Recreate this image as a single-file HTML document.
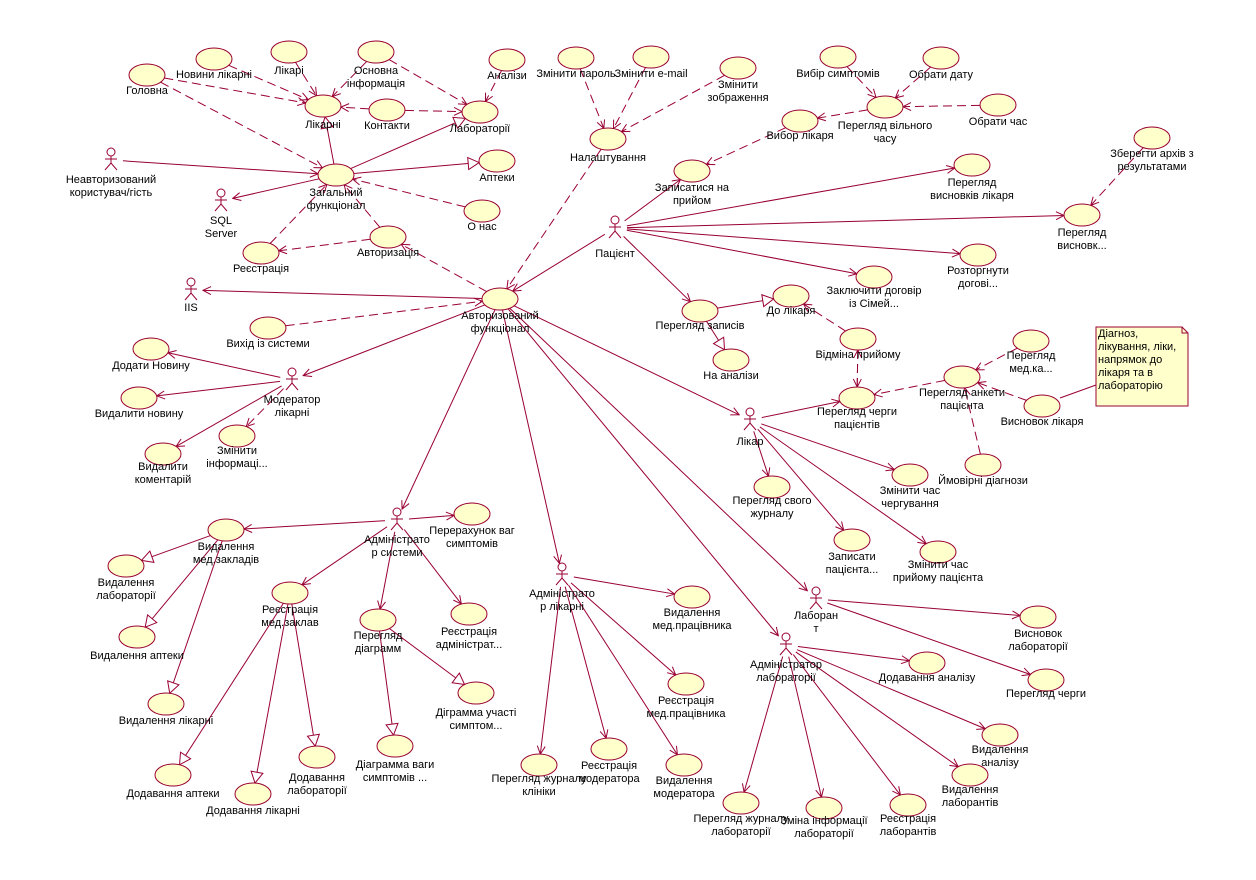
<!DOCTYPE html>
<html><head><meta charset="utf-8">
<style>
html,body{margin:0;padding:0;background:#fff;}
svg{display:block;font-family:"Liberation Sans",Arial,sans-serif;font-size:11px;}
</style></head>
<body>
<svg id="d" width="1256" height="880" viewBox="0 0 1256 880">
<defs>
<marker id="open" markerWidth="10" markerHeight="10" refX="9" refY="5" orient="auto" markerUnits="userSpaceOnUse"><path d="M1,1 L9,5 L1,9" fill="none" stroke="#990033" stroke-width="1"/></marker>
<marker id="tri" markerWidth="14" markerHeight="14" refX="12" refY="7" orient="auto" markerUnits="userSpaceOnUse"><path d="M1,1 L12,7 L1,13 Z" fill="#fff" stroke="#990033" stroke-width="1"/></marker>
</defs>
<g id="edges"></g><g id="nodes"></g>
<g>
<path d="M1096,327 L1182,327 L1188,333 L1188,406 L1096,406 Z" fill="#ffffcc" stroke="#990033"/>
<path d="M1182,327 L1182,333 L1188,333" fill="none" stroke="#990033"/>
<text x="1098" y="337">Діагноз,</text><text x="1098" y="350">лікування, ліки,</text>
<text x="1098" y="363">напрямок до</text><text x="1098" y="376">лікаря та в</text><text x="1098" y="389">лабораторію</text>
</g>
</svg>
<script>
// [id, kind(u=use case,a=actor), x, y, label lines, first label y]
const nodes=[
["golovna","u",147,75,["Головна"],90],
["novyny","u",214,59,["Новини лікарні"],74],
["likari","u",289,52,["Лікарі"],70],
["osnovna","u",376,52,["Основна","інформація"],70],
["analizy","u",507,60,["Аналізи"],75],
["likarni","u",323,106,["Лікарні"],124],
["kontakty","u",387,110,["Контакти"],125],
["labs","u",480,112,["Лабораторії"],128],
["parol","u",576,58,["Змінити пароль"],73],
["email","u",651,57,["Змінити e-mail"],73],
["zobr","u",738,68,["Змінити","зображення"],84],
["nalasht","u",608,139,["Налаштування"],157],
["symptomy","u",838,57,["Вибір симптомів"],73],
["data","u",941,58,["Обрати дату"],74],
["vilnyi","u",885,107,["Перегляд вільного","часу"],125],
["chas","u",998,105,["Обрати час"],121],
["vybor","u",800,121,["Вибор лікаря"],135],
["zapys","u",692,171,["Записатися на","прийом"],187],
["arkhiv","u",1152,138,["Зберегти архів з","результатами"],153],
["vysnovky","u",972,165,["Перегляд","висновків лікаря"],182],
["vysnovk2","u",1082,215,["Перегляд","висновк..."],232],
["rozt","u",978,255,["Розторгнути","догові..."],270],
["zakl","u",874,277,["Заключити договір","із Сімей..."],290],
["pacient","a",615,228,["Пацієнт"],253],
["guest","a",111,160,["Неавторизований","користувач/гість"],179],
["sql","a",221,201,["SQL","Server"],220],
["zagal","u",336,175,["Загальний","функціонал"],192],
["apteky","u",497,161,["Аптеки"],177],
["onas","u",482,211,["О нас"],226],
["reestr","u",261,253,["Реєстрація"],268],
["avtor","u",388,237,["Авторизація"],252],
["iis","a",191,290,["IIS"],307],
["avfunc","u",500,299,["Авторизований","функціонал"],315],
["vyhid","u",268,328,["Вихід із системи"],343],
["zapysy","u",700,311,["Перегляд записів"],325],
["dolik","u",791,296,["До лікаря"],310],
["naan","u",731,360,["На аналізи"],375],
["vidmina","u",858,339,["Відміна прийому"],354],
["cherga","u",857,398,["Перегляд черги","пацієнтів"],411],
["medka","u",1031,341,["Перегляд","мед.ка..."],355],
["anketa","u",962,377,["Перегляд анкети","пацієнта"],392],
["vysnlik","u",1042,406,["Висновок лікаря"],421],
["diagn","u",983,465,["Ймовірні діагнози"],480],
["likar","a",750,420,["Лікар"],441],
["cherguv","u",910,475,["Змінити час","чергування"],490],
["zhurnal","u",772,487,["Перегляд свого","журналу"],500],
["zapysaty","u",852,540,["Записати","пацієнта..."],556],
["chasprym","u",938,552,["Змінити час","прийому пацієнта"],564],
["moder","a",292,380,["Модератор","лікарні"],399],
["dodnov","u",151,349,["Додати Новину"],365],
["vydnov","u",139,398,["Видалити новину"],413],
["vydkom","u",163,454,["Видалити","коментарій"],466],
["zmininf","u",237,436,["Змінити","інформаці..."],450],
["admsys","a",397,520,["Адміністрато","р системи"],539],
["pererah","u",472,514,["Перерахунок ваг","симптомів"],530],
["vydmed","u",226,530,["Видалення","мед.закладів"],546],
["vydlab","u",126,566,["Видалення","лабораторії"],582],
["vydapt","u",137,637,["Видалення аптеки"],655],
["vydlik","u",166,704,["Видалення лікарні"],720],
["reemed","u",290,593,["Реєстрація","мед.заклав"],609],
["diagr","u",378,620,["Перегляд","діаграмм"],635],
["reeadm","u",469,614,["Реєстрація","адміністрат..."],631],
["diagvag","u",395,746,["Діаграмма ваги","симптомів ..."],764],
["diaguch","u",476,693,["Дігрaмма участі","симптом..."],712],
["dodapt","u",173,775,["Додавання аптеки"],793],
["dodlik","u",253,794,["Додавання лікарні"],810],
["dodlab","u",317,757,["Додавання","лабораторії"],777],
["admlik","a",562,575,["Адміністрато","р лікарні"],593],
["vydmp","u",692,597,["Видалення","мед.працівника"],612],
["reemp","u",686,684,["Реєстрація","мед.працівника"],700],
["zhurkl","u",539,765,["Перегляд журналу","клініки"],778],
["reemod","u",609,749,["Реєстрація","модератора"],765],
["vydmod","u",684,765,["Видалення","модератора"],780],
["laborant","a",816,599,["Лаборан","т"],615],
["vysnlab","u",1038,617,["Висновок","лабораторії"],633],
["dodan","u",927,663,["Додавання аналізу"],677],
["chergal","u",1046,680,["Перегляд черги"],693],
["admlab","a",786,645,["Адміністратор","лабораторії"],664],
["vydan","u",1000,735,["Видалення","аналізу"],749],
["vydlabor","u",970,775,["Видалення","лаборантів"],789],
["zhurlab","u",741,803,["Перегляд журналу","лабораторії"],818],
["zminlab","u",824,808,["Зміна інформації","лабораторії"],820],
["reelabor","u",908,805,["Реєстрація","лаборантів"],818]
];
// [from, to, style: s=solid arrow, d=dashed arrow, g=generalization]
const edges=[
["golovna","likarni","d"],["novyny","likarni","d"],["likari","likarni","d"],["osnovna","likarni","d"],["kontakty","likarni","d"],
["osnovna","labs","d"],["analizy","labs","d"],["kontakty","labs","d"],["golovna","zagal","d"],
["zagal","likarni","g"],["zagal","labs","g"],["zagal","apteky","g"],
["onas","zagal","d"],["avtor","zagal","d"],["reestr","zagal","d"],["avtor","reestr","d"],
["guest","zagal","s"],["zagal","sql","s"],
["avfunc","avtor","d"],["avfunc","iis","s"],["nalasht","avfunc","d"],
["parol","nalasht","d"],["email","nalasht","d"],["zobr","nalasht","d"],
["symptomy","vilnyi","d"],["data","vilnyi","d"],["chas","vilnyi","d"],["vilnyi","vybor","d"],["vybor","zapys","d"],
["pacient","zapys","s"],["pacient","vysnovky","s"],["pacient","vysnovk2","s"],["pacient","rozt","s"],["pacient","zakl","s"],["pacient","zapysy","s"],
["pacient","avfunc","s"],["arkhiv","vysnovk2","d"],
["zapysy","dolik","g"],["zapysy","naan","g"],["vidmina","dolik","d"],
["avfunc","likar","s"],["likar","cherga","s"],["likar","cherguv","s"],["likar","zhurnal","s"],["likar","zapysaty","s"],["likar","chasprym","s"],
["vidmina","cherga","d"],["cherga","vidmina","d"],["anketa","cherga","d"],["medka","anketa","d"],["vysnlik","anketa","d"],["diagn","anketa","d"],
["avfunc","moder","s"],["moder","dodnov","s"],["moder","vydnov","s"],["moder","vydkom","s"],["moder","zmininf","d"],
["vyhid","avfunc","d"],
["avfunc","admsys","s"],["avfunc","admlik","s"],["avfunc","laborant","s"],["avfunc","admlab","s"],
["admsys","pererah","s"],["admsys","vydmed","s"],["admsys","reemed","s"],["admsys","diagr","s"],["admsys","reeadm","s"],
["vydmed","vydlab","g"],["vydmed","vydapt","g"],["vydmed","vydlik","g"],
["reemed","dodapt","g"],["reemed","dodlik","g"],["reemed","dodlab","g"],
["diagr","diagvag","g"],["diagr","diaguch","g"],
["admlik","vydmp","s"],["admlik","reemp","s"],["admlik","zhurkl","s"],["admlik","reemod","s"],["admlik","vydmod","s"],
["laborant","vysnlab","s"],["laborant","chergal","s"],
["admlab","dodan","s"],["admlab","vydan","s"],["admlab","vydlabor","s"],["admlab","zhurlab","s"],["admlab","zminlab","s"],["admlab","reelabor","s"]
];
const NS="http://www.w3.org/2000/svg", C="#990033";
const G=document.getElementById("nodes"), E=document.getElementById("edges");
const map={};nodes.forEach(n=>map[n[0]]=n);
function mk(t,a,p){const e=document.createElementNS(NS,t);for(const k in a)e.setAttribute(k,a[k]);(p||G).appendChild(e);return e;}
function trim(n,dx,dy){
  const L=Math.hypot(dx,dy)||1;
  if(n[1]==="a")return 12/L;
  const t=1/Math.sqrt((dx*dx)/(18*18)+(dy*dy)/(11*11));return t;
}
edges.forEach(e=>{
  const a=map[e[0]],b=map[e[1]];const dx=b[2]-a[2],dy=b[3]-a[3];
  const ta=trim(a,dx,dy),tb=trim(b,dx,dy);
  const l=mk("line",{x1:a[2]+dx*ta,y1:a[3]+dy*ta,x2:b[2]-dx*tb,y2:b[3]-dy*tb,stroke:C,"stroke-width":1,
    "stroke-dasharray":e[2]==="d"?"9,5":"none","marker-end":e[2]==="g"?"url(#tri)":"url(#open)"},E);
  
  
});
// note link
mk("line",{x1:1060,y1:398,x2:1096,y2:385,stroke:C},E);
nodes.forEach(n=>{
  const g=mk("g",{});
  
  
  const x=n[2],y=n[3];
  if(n[1]==="u"){mk("ellipse",{cx:x,cy:y,rx:18,ry:11,fill:"#ffffcc",stroke:C},g);}
  else{
    mk("circle",{cx:x,cy:y-8,r:4,fill:"#fff",stroke:C},g);
    mk("path",{d:`M${x},${y-4}L${x},${y+3}M${x-6},${y-1}L${x+6},${y-1}M${x-6},${y+10}L${x},${y+3}L${x+6},${y+10}`,fill:"none",stroke:C},g);
  }
  n[4].forEach((s,i)=>{const t=mk("text",{x:x,y:n[5]+i*13+4,"text-anchor":"middle",fill:"#000"},g);t.textContent=s;});
});
</script>
</body></html>
